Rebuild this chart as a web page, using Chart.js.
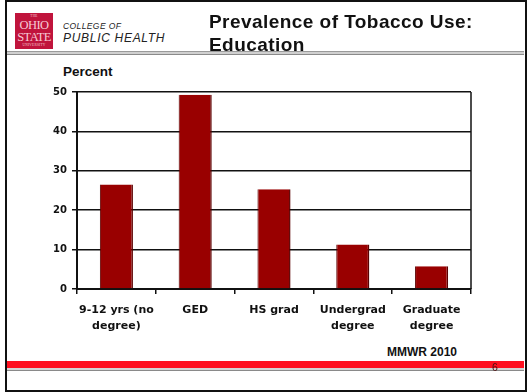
<!DOCTYPE html>
<html>
<head>
<meta charset="utf-8">
<script src="https://cdn.jsdelivr.net/npm/chart.js@4/dist/chart.umd.min.js"></script>
<style>
  html, body { margin: 0; padding: 0; background: #fff; }
  body { width: 529px; height: 392px; position: relative; overflow: hidden; font-family: "Liberation Sans", Arial, sans-serif; }
  #frame { position: absolute; left: 5px; top: 0; width: 518px; height: 388px; border: 2px solid #111; box-sizing: content-box; }
  #logo { position: absolute; left: 15px; top: 13px; width: 38px; height: 36px; background: #c0143c; color: #f6c9d4; text-align: center; font-family: "Liberation Serif", serif; line-height: 1; }
  #logo .big { font-size: 12.5px; letter-spacing: -0.6px; display: block; }
  #logo .small { font-size: 3.5px; display: block; letter-spacing: 0.2px; }
  #college1 { position: absolute; left: 63px; top: 21px; font-size: 8.5px; font-style: italic; color: #222; letter-spacing: 0.4px; }
  #college2 { position: absolute; left: 63px; top: 31px; font-size: 12px; font-style: italic; color: #222; letter-spacing: 0.7px; }
  #title { position: absolute; left: 209px; top: 10px; font-size: 19px; font-weight: bold; color: #111; line-height: 23px; letter-spacing: 0.45px; z-index: 3; }
  #hline { position: absolute; left: 7px; width: 517px; top: 51px; height: 2px; background: #d0d0d0; border-top: 1px solid #9a9a9a; border-bottom: 1px solid #8a8a8a; z-index: 1; }
  #redbar { position: absolute; left: 7px; width: 517px; top: 361px; height: 7px; background: #ff1020; }
  #fline { position: absolute; left: 7px; width: 517px; top: 368px; height: 2px; background: #d4d4d4; border-bottom: 1px solid #8a8a8a; }
  #pagenum { position: absolute; left: 492px; top: 361px; font-size: 10.5px; color: #4a1010; z-index: 3; }
  #source { position: absolute; left: 387px; top: 345px; font-size: 12px; font-weight: bold; color: #111; }
  #unit { position: absolute; left: 63px; top: 64px; font-size: 13.5px; font-weight: bold; color: #111; }
  #chart { position: absolute; left: 0; top: 0; }
</style>
</head>
<body>
<div id="frame"></div>
<div id="logo"><span class="small" style="padding-top:2px">THE</span><span class="big">OHIO</span><span class="big">STATE</span><span class="small">UNIVERSITY</span></div>
<div id="college1">COLLEGE OF</div>
<div id="college2">PUBLIC HEALTH</div>
<div id="hline"></div>
<div id="title">Prevalence of Tobacco Use:<br>Education</div>
<div id="unit">Percent</div>
<div id="source">MMWR 2010</div>
<div id="redbar"></div>
<div id="fline"></div>
<div id="pagenum">6</div>
<canvas id="chart" width="529" height="392"></canvas>
<script>
// Education levels and share of adults using tobacco (%)
const categories = [
  ["9-12 yrs (no", "degree)"],
  "GED",
  "HS grad",
  ["Undergrad", "degree"],
  ["Graduate", "degree"]
];
const prevalence = [26.5, 49.3, 25.3, 11.3, 5.8];
const yTicks = [0, 10, 20, 30, 40, 50];

// Draws the box line along the right edge of the plot area
const plotFrame = {
  id: 'plotFrame',
  afterDraw(chart) {
    const { ctx, chartArea: a } = chart;
    ctx.save();
    ctx.strokeStyle = '#111';
    ctx.lineWidth = 1.5;
    ctx.beginPath();
    ctx.moveTo(a.right, a.top);
    ctx.lineTo(a.right, a.bottom);
    ctx.stroke();
    ctx.restore();
  }
};

new Chart(document.getElementById('chart'), {
  type: 'bar',
  data: {
    labels: categories,
    datasets: [{
      data: prevalence,
      backgroundColor: '#990000',
      borderColor: '#5a0000',
      borderWidth: { left: 1, right: 1.5, top: 0, bottom: 0 },
      categoryPercentage: 1,
      barPercentage: 0.42
    }]
  },
  options: {
    responsive: false,
    animation: false,
    layout: { padding: { left: 0, right: 58, top: 92, bottom: 0 } },
    plugins: { legend: { display: false }, tooltip: { enabled: false } },
    scales: {
      x: {
        grid: { drawOnChartArea: false, drawTicks: true, tickLength: 5, color: '#111', lineWidth: 1.5, offset: true },
        border: { display: true, color: '#111', width: 2 },
        ticks: { color: '#111', font: { family: 'DejaVu Sans', size: 11, weight: 'bold', lineHeight: 1.45 }, padding: 8, maxRotation: 0, autoSkip: false },
        afterFit(scale) { scale.height = 103; }
      },
      y: {
        min: 0,
        max: 50,
        afterBuildTicks(scale) { scale.ticks = yTicks.map(v => ({ value: v })); },
        grid: { color: '#111', lineWidth: 1.5, tickLength: 5 },
        border: { display: true, color: '#111', width: 2 },
        ticks: { color: '#111', font: { family: 'DejaVu Sans', size: 10, weight: 'bold' }, padding: 5 },
        afterFit(scale) { scale.width = 77; }
      }
    }
  },
  plugins: [plotFrame]
});
</script>
</body>
</html>
